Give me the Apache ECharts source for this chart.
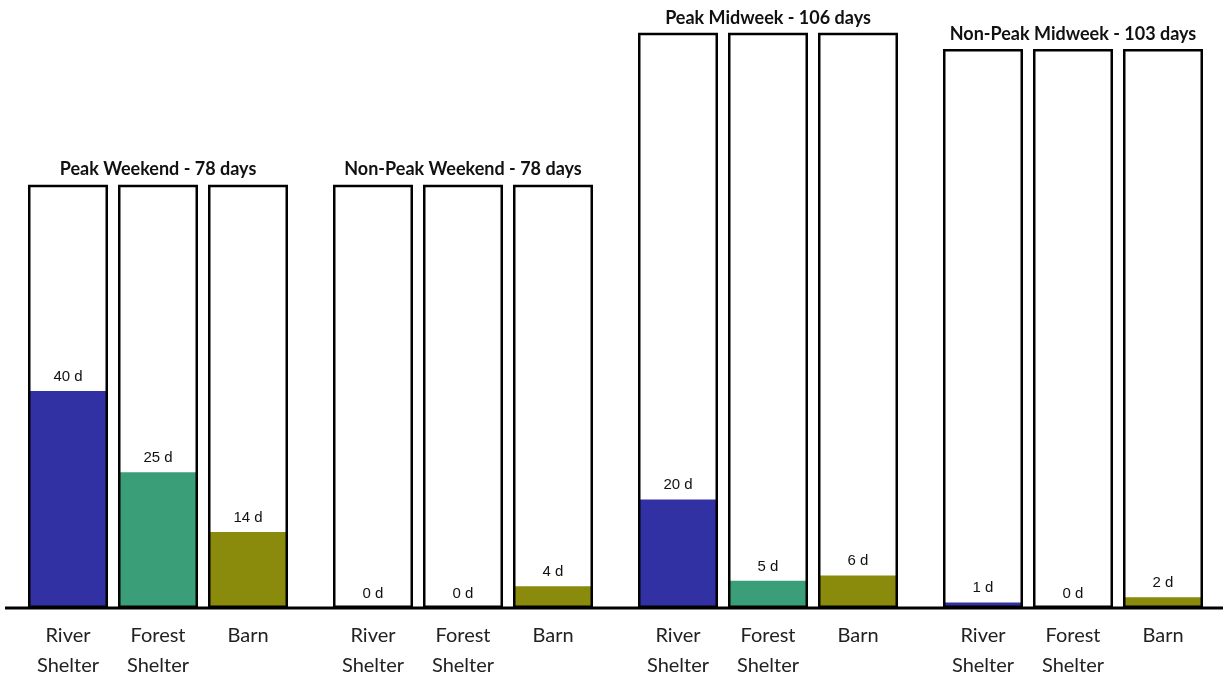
<!DOCTYPE html>
<html>
<head>
<meta charset="utf-8">
<script src="https://cdn.jsdelivr.net/npm/echarts@6/dist/echarts.min.js"></script>
<style>
  html, body { margin: 0; padding: 0; background: #fff; }
  #chart { width: 1223px; height: 680px; }
</style>
</head>
<body>
<div id="chart"></div>
<script>
// data
const units = ["River\nShelter", "Forest\nShelter", "Barn"];
const groupNames = ["Peak Weekend", "Non-Peak Weekend", "Peak Midweek", "Non-Peak Midweek"];
const groupDays = [78, 78, 106, 103];
const peakWeekend = [40, 25, 14];
const nonPeakWeekend = [0, 0, 4];
const peakMidweek = [20, 5, 6];
const nonPeakMidweek = [1, 0, 2];
const booked = [peakWeekend, nonPeakWeekend, peakMidweek, nonPeakMidweek];

// styles
const unitColors = ["#3131a4", "#3a9f78", "#8a8a0c"];
const font = "Lato, 'Open Sans', sans-serif";

let grids = [], xAxes = [], yAxes = [], series = [];
groupNames.forEach((name, i) => {
  grids.push({ left: 23 + 305 * i, width: 270, top: 11, bottom: 72, outerBoundsMode: "none" });
  xAxes.push({
    gridIndex: i,
    type: "category",
    data: units,
    axisLine: { show: false },
    axisTick: { show: false },
    axisLabel: {
      interval: 0,
      margin: 13,
      fontFamily: font,
      fontSize: 20,
      lineHeight: 30,
      color: "#222"
    }
  });
  yAxes.push({
    gridIndex: i,
    type: "value",
    min: 0,
    max: 110,
    show: false,
    splitLine: { show: false }
  });
  // booked days (filled part)
  series.push({
    type: "bar",
    xAxisIndex: i,
    yAxisIndex: i,
    barWidth: 80,
    barGap: "-100%",
    data: booked[i].map((v, k) => ({ value: v, itemStyle: { color: unitColors[k] } })),
    label: {
      show: true,
      position: "top",
      distance: 7,
      formatter: p => p.value + " d",
      fontFamily: "'Liberation Sans', Arial, sans-serif",
      fontSize: 15,
      color: "#111"
    },
    z: 2
  });
  // total days (outline)
  series.push({
    type: "bar",
    xAxisIndex: i,
    yAxisIndex: i,
    barWidth: 80,
    barGap: "-100%",
    data: units.map(() => groupDays[i]),
    itemStyle: { color: "rgba(0,0,0,0)", borderColor: "#000", borderWidth: 2.5 },
    label: {
      show: true,
      position: "top",
      distance: 6,
      formatter: p => (p.dataIndex === 1 ? name + " - " + groupDays[i] + " days" : ""),
      fontFamily: font,
      fontWeight: "bold",
      fontSize: 18,
      color: "#111"
    },
    z: 3
  });
});

let myChart = echarts.init(document.getElementById("chart"));
myChart.setOption({
  backgroundColor: "#fff",
  animation: false,
  grid: grids,
  xAxis: xAxes,
  yAxis: yAxes,
  series: series,
  graphic: [{
    type: "line",
    shape: { x1: 5, y1: 608, x2: 1223, y2: 608 },
    style: { stroke: "#000", lineWidth: 3 },
    z: 10
  }]
});
</script>
</body>
</html>
